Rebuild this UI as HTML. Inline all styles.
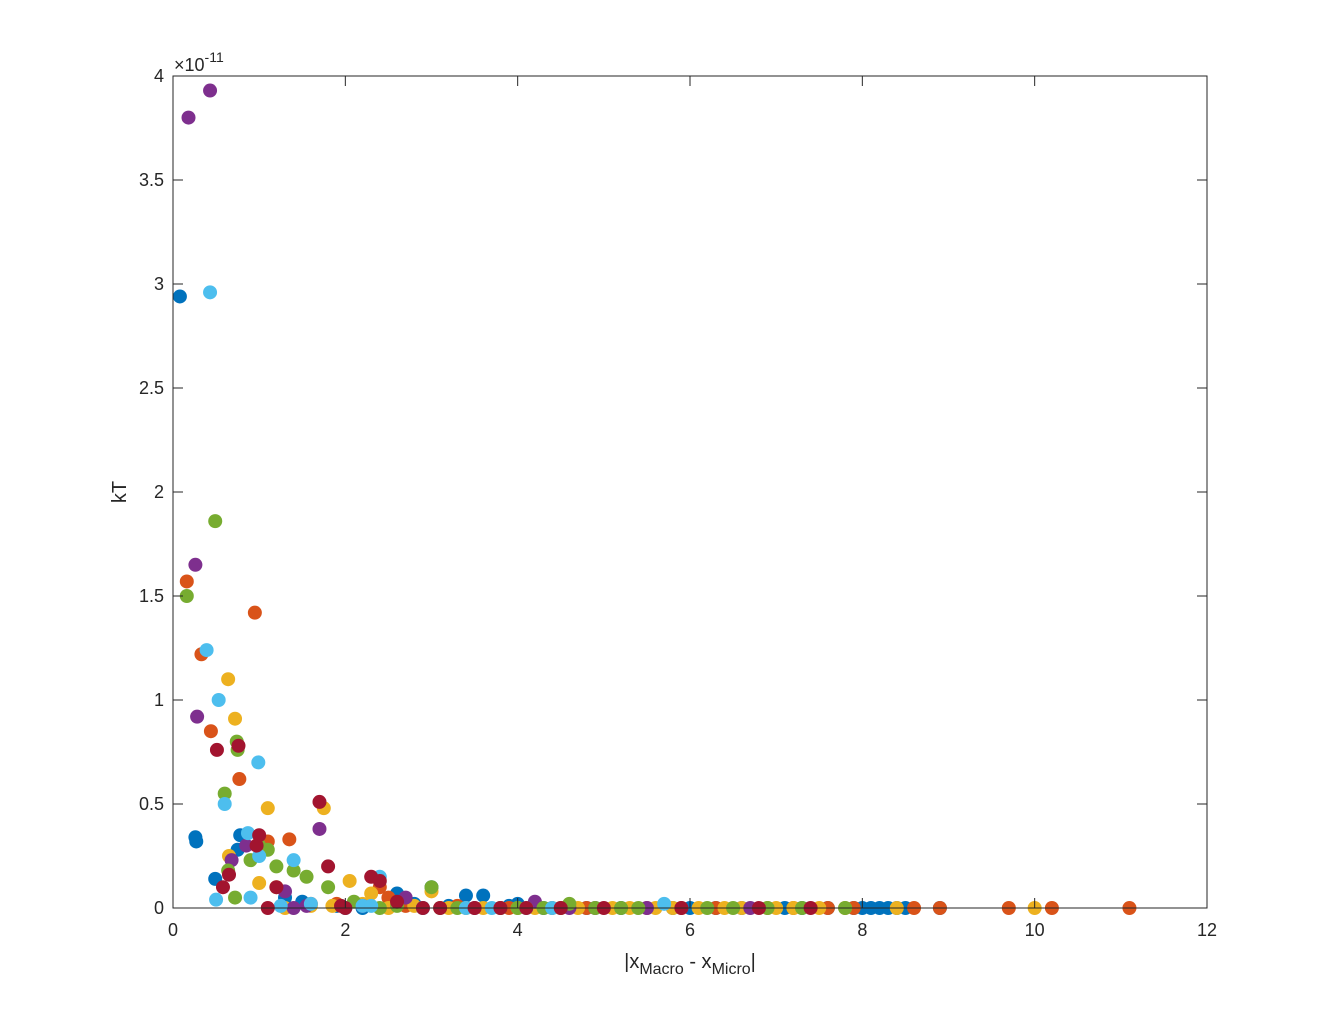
<!DOCTYPE html>
<html><head><meta charset="utf-8"><style>
body{margin:0;background:#fff;}
svg text{font-family:"Liberation Sans",sans-serif;fill:#262626;}
</style></head><body>
<svg id="chart" width="1334" height="1020" xmlns="http://www.w3.org/2000/svg">
<rect width="1334" height="1020" fill="#fff"/>
<g id="marks"></g>
<g id="axes"></g>
</svg>
<script>
const xTicks=[0,2,4,6,8,10,12];
const yTicks=[0,0.5,1,1.5,2,2.5,3,3.5,4];
const yTickLabels=["0","0.5","1","1.5","2","2.5","3","3.5","4"];
const seriesColors=["#0072BD","#D95319","#EDB120","#7E2F8E","#77AC30","#4DBEEE","#A2142F"];
const blueX=[0.08,0.26,0.27,0.49,0.78,0.75,1.3,3.0,3.4,3.6,2.6,4.0,4.5,5.2,6.0,6.6,7.1,7.6,8.0,8.1,8.2,8.3,8.5,8.9,1.5,2.8,3.9,4.8,5.8,6.3,7.3,7.9,8.4,1.9,2.2,3.2,4.3];
const blueY=[2.94,0.34,0.32,0.14,0.35,0.28,0.05,0.1,0.06,0.06,0.07,0.02,0,0,0,0,0,0,0,0,0,0,0,0,0.03,0.02,0.01,0,0,0,0,0,0,0.01,0,0.01,0];
const orangeX=[0.16,0.33,0.44,0.77,0.95,1.1,1.35,2.4,2.5,5.5,6.3,7.2,7.9,8.6,8.9,9.7,10.2,11.1,1.9,3.3,4.4,2.7,3.9,4.8,5.9,6.9,7.6,1.6];
const orangeY=[1.57,1.22,0.85,0.62,1.42,0.32,0.33,0.1,0.05,0,0,0,0,0,0,0,0,0,0.02,0.01,0,0.01,0,0,0,0,0,0.02];
const yellowX=[0.64,0.72,1.1,1.75,0.65,1.2,2.05,3.0,2.3,1.0,1.3,1.6,2.5,3.2,4.2,4.7,5.6,6.1,6.4,7.0,7.5,8.4,10.0,2.8,3.6,1.85,3.4,4.0,4.5,5.1,5.3,5.8,6.6,7.2,7.8,2.2];
const yellowY=[1.10,0.91,0.48,0.48,0.25,0.1,0.13,0.08,0.07,0.12,0,0.01,0,0,0,0,0,0,0,0,0,0,0,0.01,0,0.01,0,0,0,0,0,0,0,0,0,0.02];
const purpleX=[0.43,0.18,0.26,0.28,1.7,0.68,0.85,1.3,2.7,4.2,1.4,2.0,3.5,4.9,6.7,1.05,2.2,1.55,2.9,3.8,4.6,5.5];
const purpleY=[3.93,3.80,1.65,0.92,0.38,0.23,0.3,0.08,0.05,0.03,0,0,0,0,0,0.28,0.01,0.01,0,0,0,0];
const greenX=[0.49,0.16,0.74,0.75,0.6,0.64,0.72,1.1,1.2,1.4,1.55,1.8,0.9,3.0,4.6,2.4,3.1,3.8,4.3,5.4,6.2,6.9,7.3,7.8,2.1,1.0,2.6,3.3,4.0,4.9,5.2,6.5];
const greenY=[1.86,1.50,0.80,0.76,0.55,0.18,0.05,0.28,0.2,0.18,0.15,0.1,0.23,0.1,0.02,0,0,0,0,0,0,0,0,0,0.03,0.3,0.01,0,0,0,0,0];
const cyanX=[0.43,0.39,0.53,0.99,0.6,0.87,0.5,0.9,1.0,1.4,2.4,2.2,2.3,5.7,1.6,3.7,1.25,2.0,2.9,3.4,4.1,4.4];
const cyanY=[2.96,1.24,1.00,0.70,0.5,0.36,0.04,0.05,0.25,0.23,0.15,0.01,0.01,0.02,0.02,0,0.01,0,0,0,0,0];
const redX=[0.51,0.76,1.7,1.8,0.58,0.65,1.0,0.97,1.1,2.3,2.4,2.6,2.9,3.5,5.0,6.8,7.4,1.2,1.95,2.0,3.1,3.8,4.1,4.5,5.9];
const redY=[0.76,0.78,0.51,0.2,0.1,0.16,0.35,0.3,0.0,0.15,0.13,0.03,0,0,0,0,0,0.1,0.01,0,0,0,0,0,0];
const seriesX=[blueX,orangeX,yellowX,purpleX,greenX,cyanX,redX];
const seriesY=[blueY,orangeY,yellowY,purpleY,greenY,cyanY,redY];

const L=173,R=1207,T=76,B=908;
function sx(v){return L+(v-0)/12*(R-L);}
function sy(v){return B-(v-0)/4*(B-T);}
const NS="http://www.w3.org/2000/svg";
const marks=document.getElementById('marks');
const axes=document.getElementById('axes');
function mk(tag,attrs,parent){const e=document.createElementNS(NS,tag);for(const k in attrs)e.setAttribute(k,attrs[k]);parent.appendChild(e);return e;}
seriesX.forEach((xs,s)=>{
  xs.forEach((x,i)=>{
    const c=mk('circle',{cx:sx(x),cy:sy(seriesY[s][i]),r:7,fill:seriesColors[s]},marks);
    
    
  });
});
const box=mk('rect',{x:L,y:T,width:R-L,height:B-T,fill:'none',stroke:'#262626','stroke-width':1},axes);


xTicks.forEach(v=>{
  const x=sx(v);
  mk('line',{x1:x,y1:B,x2:x,y2:B-10,stroke:'#262626'},axes);
  mk('line',{x1:x,y1:T,x2:x,y2:T+10,stroke:'#262626'},axes);
  const t=mk('text',{x:x,y:B+28,'text-anchor':'middle','font-size':18},axes);
  t.textContent=String(v);
  
  
});
yTicks.forEach((v,i)=>{
  const y=sy(v);
  mk('line',{x1:L,y1:y,x2:L+10,y2:y,stroke:'#262626'},axes);
  mk('line',{x1:R,y1:y,x2:R-10,y2:y,stroke:'#262626'},axes);
  const t=mk('text',{x:L-9,y:y+6,'text-anchor':'end','font-size':18},axes);
  t.textContent=yTickLabels[i];
  
  
});
</script>
<svg style="position:absolute;left:0;top:0" width="1334" height="1020" xmlns="http://www.w3.org/2000/svg">
<text x="174" y="71" font-size="18">×10<tspan dy="-9" font-size="14">-11</tspan></text>
<text transform="translate(126,492) rotate(-90)" text-anchor="middle" font-size="20">kT</text>
<text x="690" y="968" text-anchor="middle" font-size="20">|x<tspan dy="6" font-size="16">Macro</tspan><tspan dy="-6"> - x</tspan><tspan dy="6" font-size="16">Micro</tspan><tspan dy="-6">|</tspan></text>
</svg>
</body></html>
